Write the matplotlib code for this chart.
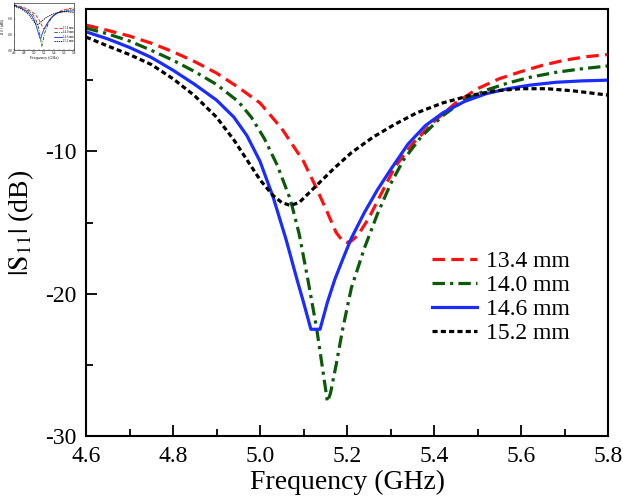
import matplotlib
matplotlib.use("Agg")
import matplotlib.pyplot as plt
from matplotlib.ticker import MultipleLocator

plt.rcParams['font.family'] = ['Liberation Serif', 'DejaVu Serif']
plt.rcParams['mathtext.fontset'] = 'stix'
plt.rcParams['axes.unicode_minus'] = False

# S11, one frequency list per curve (GHz, dB)
f_134 = [4.60, 4.65, 4.70, 4.75, 4.80, 4.85, 4.90, 4.95, 5.00, 5.05, 5.10, 5.13, 5.155, 5.175,
         5.19, 5.20, 5.21, 5.225, 5.25, 5.28, 5.31, 5.35, 5.40, 5.45, 5.50, 5.55, 5.60, 5.65,
         5.70, 5.75, 5.80]
s_134 = [-1.13, -1.5, -1.9, -2.4, -3.0, -3.7, -4.5, -5.5, -6.6, -8.4, -10.7, -12.6, -14.3, -15.7,
         -16.3, -16.4, -16.3, -15.9, -14.7, -12.9, -11.1, -9.5, -7.9, -6.6, -5.6, -4.9, -4.4, -3.95,
         -3.6, -3.35, -3.2]

f_140 = [4.60, 4.65, 4.70, 4.75, 4.80, 4.85, 4.90, 4.95, 4.98, 5.01, 5.04, 5.07, 5.09, 5.11,
         5.13, 5.145, 5.155, 5.162, 5.175, 5.19, 5.21, 5.24, 5.27, 5.30, 5.33, 5.37, 5.42, 5.47,
         5.52, 5.57, 5.62, 5.68, 5.74, 5.80]
s_140 = [-1.34, -1.75, -2.25, -2.9, -3.6, -4.4, -5.3, -6.5, -7.6, -9.1, -11.0, -13.4, -15.8, -19.0,
         -22.4, -25.5, -27.6, -27.0, -25.0, -22.5, -19.6, -16.8, -14.4, -12.3, -10.6, -9.0, -7.5, -6.4,
         -5.7, -5.2, -4.8, -4.45, -4.2, -4.0]

f_146 = [4.60, 4.65, 4.70, 4.75, 4.80, 4.85, 4.90, 4.94, 4.97, 5.00, 5.03, 5.06, 5.085, 5.10,
         5.117, 5.138, 5.155, 5.172, 5.19, 5.21, 5.24, 5.27, 5.30, 5.34, 5.38, 5.42, 5.47, 5.52,
         5.57, 5.62, 5.68, 5.74, 5.80]
s_146 = [-1.6, -2.1, -2.7, -3.4, -4.3, -5.3, -6.4, -7.6, -8.9, -10.7, -13.2, -16.2, -19.0, -20.6,
         -22.5, -22.5, -20.6, -19.0, -17.6, -16.1, -14.3, -12.7, -11.3, -9.5, -8.2, -7.3, -6.5, -5.95,
         -5.6, -5.35, -5.15, -5.05, -5.0]

f_152 = [4.60, 4.65, 4.70, 4.75, 4.80, 4.85, 4.90, 4.94, 4.97, 5.00, 5.03, 5.05, 5.07, 5.09,
         5.11, 5.14, 5.17, 5.21, 5.26, 5.31, 5.36, 5.42, 5.48, 5.54, 5.60, 5.66, 5.72, 5.80]
s_152 = [-1.97, -2.6, -3.2, -3.9, -4.9, -6.1, -7.6, -9.2, -10.6, -12.0, -13.1, -13.6, -13.8, -13.6,
         -13.0, -12.1, -11.2, -10.1, -9.0, -8.1, -7.3, -6.6, -6.1, -5.75, -5.6, -5.6, -5.75, -6.05]

labels = ['13.4 mm', '14.0 mm', '14.6 mm', '15.2 mm']
x_ticks = [4.6, 4.8, 5.0, 5.2, 5.4, 5.6, 5.8]
x_ticklabels = ['4.6', '4.8', '5.0', '5.2', '5.4', '5.6', '5.8']
y_ticks = [-30, -20, -10]

series = [(f_134, s_134), (f_140, s_140), (f_146, s_146), (f_152, s_152)]
colors = ['#ff1010', '#0a5a0a', '#1a2cff', '#000000']
dashes = [(3.9, 2.0), (3.9, 1.6, 1.0, 1.6), (), (1.6, 1.0)]


def draw(ax, lw):
    for (f, s), c, d, lab in zip(series, colors, dashes, labels):
        line, = ax.plot(f, s, color=c, lw=lw, label=lab)
        if d:
            line.set_dashes(d)
    ax.set_xlim(4.6, 5.8)
    ax.set_ylim(-30, 0)
    ax.set_xticks(x_ticks)
    ax.set_xticklabels(x_ticklabels)
    ax.set_yticks(y_ticks)
    ax.xaxis.set_minor_locator(MultipleLocator(0.1))
    ax.yaxis.set_minor_locator(MultipleLocator(5))


fig = plt.figure(figsize=(6.23, 5.04), dpi=100)
ax = fig.add_axes([86 / 623, 1 - 436 / 504, 522 / 623, 427 / 504])
draw(ax, 2.3)
ax.tick_params(which='both', direction='in', top=False, right=False, labelsize=17, width=1.3)
ax.tick_params(which='major', length=8, pad=7)
ax.tick_params(which='minor', length=5)
for sp in ax.spines.values():
    sp.set_linewidth(1.5)
ax.set_xlabel('Frequency (GHz)', fontsize=20, labelpad=2)
ax.set_ylabel(r'$|\mathrm{S}_{11}|$ (dB)', fontsize=20, labelpad=6)
ax.legend(loc='center left', bbox_to_anchor=(0.623, 0.325), frameon=False, fontsize=17,
          handlelength=1.9, handletextpad=0.35, labelspacing=0.1)

# small thumbnail of the same plot in the top-left corner
ins = fig.add_axes([14 / 623, 1 - 50 / 504, 60 / 623, 47 / 504])
draw(ins, 0.6)
ins.tick_params(which='both', direction='in', labelsize=2.5, length=1, width=0.3, pad=1)
for sp in ins.spines.values():
    sp.set_linewidth(0.4)
ins.set_xlabel('Frequency (GHz)', fontsize=3, labelpad=0.5)
ins.set_ylabel(r'$|\mathrm{S}_{11}|$ (dB)', fontsize=3, labelpad=0.5)
ins.legend(loc='center left', bbox_to_anchor=(0.62, 0.33), frameon=False, fontsize=2.2,
           handlelength=2.5, handletextpad=0.3, labelspacing=0.1)

fig.savefig('out.png', dpi=100)
